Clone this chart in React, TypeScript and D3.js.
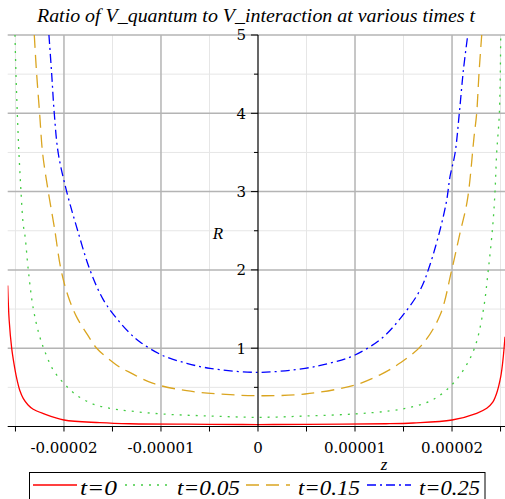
import * as d3 from 'd3';

// z values are in the plot's own units, R is the ratio
const redZ = [-2.58e-5, -2.565e-5, -2.539e-5, -2.515e-5, -2.488e-5, -2.455e-5, -2.42e-5, -2.37e-5, -2.317e-5, -2.213e-5, -2.0e-5, -1.63e-5, -1.32e-5, -0.5e-5, 0, 0.5e-5, 1.32e-5, 1.6e-5, 2.0e-5, 2.254e-5, 2.358e-5, 2.42e-5, 2.46e-5, 2.502e-5, 2.525e-5, 2.546e-5];
const redR = [1.8, 1.36, 1.0, 0.8, 0.62, 0.46, 0.36, 0.275, 0.22, 0.165, 0.083, 0.049, 0.035, 0.028, 0.025, 0.028, 0.035, 0.045, 0.083, 0.169, 0.232, 0.31, 0.424, 0.636, 0.85, 1.147];

const greenZ = [-2.505e-5, -2.495e-5, -2.481e-5, -2.464e-5, -2.443e-5, -2.42e-5, -2.4e-5, -2.368e-5, -2.317e-5, -2.255e-5, -2.196e-5, -2.11e-5, -2.0e-5, -1.87e-5, -1.7e-5, -1.526e-5, -1.337e-5, -0.99e-5, -0.495e-5, 0, 0.495e-5, 0.99e-5, 1.36e-5, 1.6e-5, 1.8e-5, 1.98e-5, 2.117e-5, 2.237e-5, 2.323e-5, 2.374e-5, 2.42e-5, 2.443e-5, 2.46e-5, 2.488e-5, 2.502e-5];
const greenR = [5.0, 4.51, 4.0, 3.49, 3.0, 2.58, 2.42, 2.0, 1.51, 1.17, 0.955, 0.72, 0.55, 0.4, 0.287, 0.232, 0.2, 0.16, 0.134, 0.117, 0.134, 0.16, 0.2, 0.253, 0.34, 0.51, 0.72, 1.02, 1.49, 2.0, 2.57, 3.0, 3.49, 4.0, 5.0];

const orangeZ = [-2.306e-5, -2.282e-5, -2.251e-5, -2.22e-5, -2.162e-5, -2.1e-5, -2.03e-5, -1.956e-5, -1.87e-5, -1.767e-5, -1.663e-5, -1.526e-5, -1.423e-5, -1.337e-5, -1.08e-5, -0.735e-5, -0.39e-5, 0, 0.485e-5, 1.0e-5, 1.258e-5, 1.464e-5, 1.688e-5, 1.876e-5, 1.997e-5, 2.082e-5, 2.158e-5, 2.227e-5, 2.254e-5, 2.278e-5, 2.306e-5];
const orangeR = [5.0, 4.51, 4.0, 3.49, 3.0, 2.55, 2.0, 1.66, 1.4, 1.19, 1.0, 0.85, 0.756, 0.7, 0.55, 0.457, 0.415, 0.393, 0.415, 0.53, 0.66, 0.81, 1.04, 1.42, 2.0, 2.47, 2.89, 3.7, 4.0, 4.51, 5.0];

const blueZ = [-2.155e-5, -2.127e-5, -2.1e-5, -2.059e-5, -1.972e-5, -1.87e-5, -1.732e-5, -1.595e-5, -1.457e-5, -1.32e-5, -1.216e-5, -0.993e-5, -0.735e-5, -0.495e-5, 0, 0.485e-5, 0.76e-5, 1.0e-5, 1.275e-5, 1.48e-5, 1.67e-5, 1.766e-5, 1.876e-5, 1.945e-5, 1.979e-5, 2.031e-5, 2.075e-5, 2.117e-5, 2.162e-5];
const blueR = [5.0, 4.51, 4.0, 3.49, 3.0, 2.55, 2.0, 1.62, 1.38, 1.19, 1.08, 0.913, 0.807, 0.743, 0.692, 0.743, 0.815, 0.913, 1.126, 1.4, 1.74, 2.04, 2.51, 2.89, 3.19, 3.49, 4.0, 4.55, 5.0];

const seriesNames = ['t=0', 't=0.05', 't=0.15', 't=0.25'];
const seriesColors = ['#ff0000', '#44cc44', '#daa520', '#0000ff'];
const seriesDash = ['none', '2,6', '13,7', '9,4,2,4'];

const xTicks = [-2e-5, -1e-5, 0, 1e-5, 2e-5];
const xTickLabels = ['-0.00002', '-0.00001', '0', '0.00001', '0.00002'];
const xMinor = [-2.5e-5, -1.5e-5, -0.5e-5, 0.5e-5, 1.5e-5, 2.5e-5];
const yTicks = [1, 2, 3, 4, 5];
const yMinor = [0.5, 1.5, 2.5, 3.5, 4.5];

const W = 505;
const H = 499;

export default function App() {
  const x = d3.scaleLinear().domain([-2.58e-5, 2.546e-5]).range([7.7, 505]);
  const y = d3.scaleLinear().domain([0, 5]).range([426.5, 35]);
  const x0 = x(0);
  const y0 = y(0);

  const series = [
    { z: redZ, r: redR },
    { z: greenZ, r: greenR },
    { z: orangeZ, r: orangeR },
    { z: blueZ, r: blueR },
  ];

  const line = d3
    .line<[number, number]>()
    .x(d => x(d[0]))
    .y(d => y(d[1]))
    .curve(d3.curveCatmullRom.alpha(0.5));

  const serif = '"DejaVu Serif", serif';
  const italic = '"Liberation Serif", serif';

  // legend layout: sample start, text start, text width
  const legendItems = [
    { lx: 33, tx: 80, tw: 37 },
    { lx: 125, tx: 177, tw: 63 },
    { lx: 246, tx: 298, tw: 62 },
    { lx: 367, tx: 419, tw: 61 },
  ];

  return (
    <svg width={W} height={H} style={{ position: 'absolute', left: 0, top: 0, background: '#fff' }}>
      <defs>
        <clipPath id="plotClip">
          <rect x={x.range()[0]} y={y(5) - 1} width={x.range()[1] - x.range()[0]} height={y0 - y(5) + 1} />
        </clipPath>
      </defs>
      <rect width={W} height={H} fill="#fff" />

      <text
        x={37}
        y={21.5}
        textLength={438}
        lengthAdjust="spacingAndGlyphs"
        fontFamily={italic}
        fontStyle="italic"
        fontSize={18}
        fill="#000"
      >
        Ratio of V_quantum to V_interaction at various times t
      </text>

      {/* minor grid */}
      {xMinor.map(v => (
        <line key={'xm' + v} x1={x(v)} x2={x(v)} y1={y(5)} y2={y0} stroke="#e6e6e6" strokeWidth={1} />
      ))}
      {yMinor.map(v => (
        <line key={'ym' + v} x1={x.range()[0]} x2={W} y1={y(v)} y2={y(v)} stroke="#e6e6e6" strokeWidth={1} />
      ))}
      {/* major grid */}
      {xTicks.filter(v => v !== 0).map(v => (
        <line key={'xg' + v} x1={x(v)} x2={x(v)} y1={y(5)} y2={y0} stroke="#b4b4b4" strokeWidth={1.5} />
      ))}
      {yTicks.map(v => (
        <line key={'yg' + v} x1={x.range()[0]} x2={W} y1={y(v)} y2={y(v)} stroke="#b4b4b4" strokeWidth={1.5} />
      ))}

      {/* curves */}
      <g clipPath="url(#plotClip)">
        {series.map((s, i) => (
          <path
            key={i}
            d={line(s.z.map((z, j) => [z, s.r[j]] as [number, number])) || ''}
            fill="none"
            stroke={seriesColors[i]}
            strokeWidth={1.3}
            strokeDasharray={seriesDash[i]}
          />
        ))}
      </g>

      {/* axes */}
      <line x1={x.range()[0]} x2={W} y1={y0} y2={y0} stroke="#000" strokeWidth={1.2} />
      <line x1={x0} x2={x0} y1={y(5)} y2={y0} stroke="#000" strokeWidth={1.2} />
      {[...xTicks, ...xMinor].map(v => (
        <line key={'xt' + v} x1={x(v)} x2={x(v)} y1={y0} y2={y0 + 5} stroke="#000" strokeWidth={1} />
      ))}
      {yTicks.map(v => (
        <line key={'yt' + v} x1={x0 - 7} x2={x0} y1={y(v)} y2={y(v)} stroke="#000" strokeWidth={1} />
      ))}
      {yMinor.map(v => (
        <line key={'ytm' + v} x1={x0 - 4} x2={x0} y1={y(v)} y2={y(v)} stroke="#000" strokeWidth={1} />
      ))}
      {xTicks.map((v, i) => (
        <text key={'xl' + v} x={x(v)} y={453} textAnchor="middle" fontFamily={serif} fontSize={15} fill="#000">
          {xTickLabels[i]}
        </text>
      ))}
      {yTicks.map(v => (
        <text key={'yl' + v} x={x0 - 12} y={y(v)} dy="0.36em" textAnchor="end" fontFamily={serif} fontSize={15} fill="#000">
          {v}
        </text>
      ))}

      <text x={218} y={239} textAnchor="middle" fontFamily={italic} fontStyle="italic" fontSize={17}>R</text>
      <text x={384} y={470} textAnchor="middle" fontFamily={italic} fontStyle="italic" fontSize={17}>z</text>

      {/* legend */}
      <rect x={29.5} y={472.5} width={455.5} height={40} fill="none" stroke="#000" strokeWidth={1} />
      {legendItems.map((it, i) => (
        <g key={'lg' + i}>
          <line
            x1={it.lx}
            x2={it.lx + 44}
            y1={485}
            y2={485}
            stroke={seriesColors[i]}
            strokeWidth={1.3}
            strokeDasharray={seriesDash[i]}
          />
          <text
            x={it.tx}
            y={495}
            textLength={it.tw}
            lengthAdjust="spacingAndGlyphs"
            fontFamily={italic}
            fontStyle="italic"
            fontSize={22}
            fill="#000"
          >
            {seriesNames[i]}
          </text>
        </g>
      ))}
    </svg>
  );
}
